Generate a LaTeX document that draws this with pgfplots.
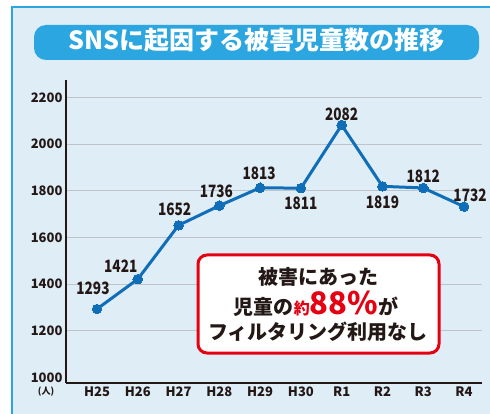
\documentclass[border=0pt]{standalone}
\usepackage{fontspec}
\setmainfont{Noto Sans CJK JP}
\newfontfamily\narrowfont{Noto Sans CJK JP}[FakeStretch=0.8]
\usepackage{pgfplots}
\pgfplotsset{compat=1.18}
\definecolor{panelbg}{RGB}{223,237,247}
\definecolor{bannerblue}{RGB}{44,166,224}
\definecolor{lineblue}{RGB}{16,110,184}
\definecolor{gridgray}{RGB}{190,196,202}
\definecolor{axiscol}{RGB}{35,24,21}
\definecolor{calred}{RGB}{229,0,18}
\begin{document}
\begin{tikzpicture}
\useasboundingbox (0,0) rectangle (490pt,-414pt);
\fill[white] (0,0) rectangle (490pt,-414pt);
\fill[panelbg] (12pt,-7pt) rectangle (490pt,-414pt);
\draw[bannerblue, line width=2pt] (12pt,-414pt) -- (12pt,-7pt) -- (490pt,-7pt);
\fill[bannerblue, rounded corners=12pt] (34pt,-25pt) rectangle (479pt,-60pt);
\node[anchor=base, text=white, font=\bfseries\fontsize{25}{30}\selectfont] at (256.5pt,-50pt) {SNSに起因する被害児童数の推移};
\node[text=axiscol, font=\bfseries\fontsize{9}{10}\selectfont] at (46pt,-392pt) {(人)};
\begin{axis}[at={(66pt,-383pt)}, anchor=south west, scale only axis,
 width=416pt, height=303pt,
 xmin=-0.76, xmax=9.44, ymin=975.6, ymax=2275,
 axis x line*=bottom, axis y line*=left,
 axis line style={draw=axiscol, line width=1.3pt, -},
 xtick={0,...,9}, xticklabels={H25,H26,H27,H28,H29,H30,R1,R2,R3,R4},
 ytick={1200,1400,...,2200}, extra y ticks={1000}, extra y tick style={grid=none},
 ymajorgrids, grid style={draw=gridgray, line width=1pt},
 major tick length=0pt,
 tick label style={font=\bfseries\fontsize{13}{15}\selectfont, text=axiscol},
 /pgf/number format/assume math mode=true, /pgf/number format/1000 sep={},
 clip=false,
]
\addplot[lineblue, line width=3pt, mark=*, mark size=4.8pt,
  mark options={fill=lineblue, draw=lineblue, line width=0pt}]
  coordinates {(0,1293)(1,1421)(2,1652)(3,1736)(4,1813)(5,1811)(6,2082)(7,1819)(8,1812)(9,1732)};
\tikzset{dl/.style={anchor=base, text=axiscol, font=\narrowfont\bfseries\fontsize{17}{17}\selectfont}}
\node[dl, xshift=-4pt, yshift=14.6pt] at (axis cs:0,1293) {1293};
\node[dl, xshift=-17pt, yshift=6.6pt] at (axis cs:1,1421) {1421};
\node[dl, xshift=-4pt, yshift=9.6pt] at (axis cs:2,1652) {1652};
\node[dl, xshift=-3pt, yshift=8.4pt] at (axis cs:3,1736) {1736};
\node[dl, xshift=-1pt, yshift=8pt] at (axis cs:4,1813) {1813};
\node[dl, xshift=0pt, yshift=-21pt] at (axis cs:5,1811) {1811};
\node[dl, xshift=0pt, yshift=4.6pt] at (axis cs:6,2082) {2082};
\node[dl, xshift=0pt, yshift=-22.6pt] at (axis cs:7,1819) {1819};
\node[dl, xshift=0pt, yshift=5.6pt] at (axis cs:8,1812) {1812};
\node[dl, xshift=6pt, yshift=5.6pt] at (axis cs:9,1732) {1732};
\end{axis}
\draw[calred, line width=3pt, fill=white, rounded corners=9pt] (198pt,-255pt) rectangle (439pt,-353pt);
\node[anchor=base, text=axiscol, font=\bfseries\fontsize{20}{24}\selectfont] at (318pt,-284.6pt) {被害にあった};
\node[anchor=base, text=axiscol, font=\bfseries\fontsize{20}{24}\selectfont] at (316pt,-314pt) {児童の{\color{calred}\fontsize{16}{16}\selectfont 約\fontsize{31}{31}\selectfont 88\%}が};
\node[anchor=base, text=axiscol, font=\bfseries\fontsize{20}{24}\selectfont] at (318pt,-339.6pt) {フィルタリング利用なし};
\end{tikzpicture}
\end{document}
